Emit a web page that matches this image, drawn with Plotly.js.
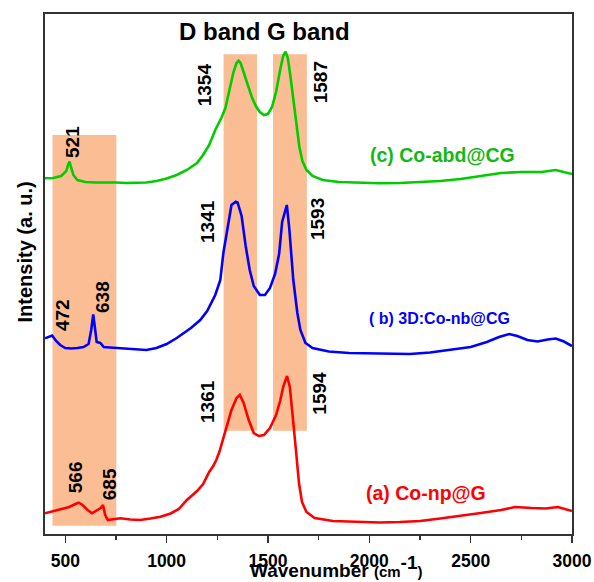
<!DOCTYPE html>
<html>
<head>
<meta charset="utf-8">
<script src="https://cdn.plot.ly/plotly-3.0.1.min.js"></script>
<style>html,body{margin:0;padding:0;background:#fff;}#chart{width:594px;height:582px;}</style>
</head>
<body>
<div id="chart"></div>
<script>
// ---- Data (intensity in arbitrary units) ----
const wnA = [400,440,480,520,550,566,585,610,632,655,675,686,697,710,740,772,820,870,920,970,1020,1060,1100,1150,1180,1210,1230,1245,1260,1275,1295,1320,1345,1361,1380,1405,1430,1455,1480,1510,1540,1560,1575,1594,1608,1622,1638,1653,1668,1690,1730,1820,1950,2050,2150,2250,2350,2450,2550,2650,2720,2800,2870,2930,3000];
const intA = [20.7,23,25,27,30,31.3,29,24,20.7,24,26,29,19,14,15,15.7,14.5,14,15.5,17.3,20.5,25,34,43,50,62,68,74,82,92,106,124,136,139,131,114,101,98,99,106,119,133,147,158,147,120,84,51,32,22,16,13,12,11.5,12,13,15.5,18,21,24,27,26,25.5,27,23];

const wnB = [400,420,435,455,475,500,530,560,590,615,628,638,646,655,673,690,720,760,800,850,900,950,1000,1050,1080,1120,1166,1200,1240,1265,1280,1300,1320,1341,1350,1370,1390,1410,1430,1460,1485,1510,1535,1555,1570,1593,1605,1625,1645,1660,1685,1720,1800,1900,2000,2100,2200,2300,2400,2500,2580,2640,2690,2730,2780,2830,2880,2920,2960,3000];
const intB = [195.7,197,198.5,193,189,186,185.5,186,187,190,204,219.7,204,192,191,187,186.5,186,185.5,184.5,184,186,190,196,200,206,214,223,239,254,281,304,329,332.3,331.5,318,288,264,248,239,239,246,260,280,312,329,306,254,221,204,191,186,182.5,181,180.5,180,180,181.5,184,187,192,197,200,198,194,192.5,194.5,195.5,192.5,188];

const wnC = [400,440,480,505,515,521,528,540,560,600,650,700,750,800,850,900,950,1000,1050,1100,1150,1180,1210,1240,1270,1290,1310,1330,1345,1355,1365,1380,1400,1420,1440,1460,1480,1500,1520,1540,1560,1575,1587,1598,1610,1625,1640,1655,1670,1690,1720,1770,1850,1950,2050,2150,2250,2350,2450,2550,2650,2750,2850,2920,2960,3000];
const intC = [355.7,356,358,363,370,372.3,367,359,354,352,351.5,351.7,351.5,351,351,351.5,353,355.5,359,364,371,379,389,404,416,426,444,462,471,473.3,471,462,449,437,428,422,419,420,427,442,464,478,482.3,476,459,434,409,387,373,364,358,354,352,351,350.7,351,352,353,355,358,361,362,362,364,362,360];

const seriesNames = ["(a) Co-np@G", "( b) 3D:Co-nb@CG", "(c) Co-abd@CG"];
const peakLabels = ["521","472","638","566","685","1354","1587","1341","1593","1361","1594"];
const xTickVals = [500,1000,1500,2000,2500,3000];
const bandTitle = "D band G band";

// ---- Styling / layout ----
const FONT = "Arial, 'Liberation Sans', sans-serif";
const colA = "#ff0000", colB = "#0000ff", colC = "#00cc00";

const traces = [
  {x: wnA, y: intA, name: seriesNames[0], mode: "lines", line: {color: colA, width: 2.6}},
  {x: wnB, y: intB, name: seriesNames[1], mode: "lines", line: {color: colB, width: 2.6}},
  {x: wnC, y: intC, name: seriesNames[2], mode: "lines", line: {color: colC, width: 2.6}}
];

// peak label placement (x in wavenumber, y in intensity units)
const peakPos = [
  [533,392],[484,219],[681,237],[549,57],[717,50],
  [1186,449],[1758,452],[1199,313],[1742,315],[1199,133],[1750,141]
];
const ann = (o) => Object.assign({showarrow: false, xanchor: "center", yanchor: "middle"}, o);
const annotations = peakLabels.map((t,i)=>ann({
  text: "<b>"+t+"</b>", x: peakPos[i][0], y: peakPos[i][1], xref: "x", yref: "y",
  textangle: -90,
  font: {family: FONT, size: 19, color: "#000"}
}));
annotations.push(ann({text: "<b>"+bandTitle+"</b>", x: 0.416, y: 0.966, xref: "paper", yref: "paper",
  font: {family: FONT, size: 24, color: "#000"}}));
annotations.push(ann({text: "<b>"+seriesNames[2]+"</b>", x: 0.754, y: 0.729, xref: "paper", yref: "paper",
  font: {family: FONT, size: 19.5, color: "#14b814"}}));
annotations.push(ann({text: "<b>"+seriesNames[1]+"</b>", x: 0.748, y: 0.4135, xref: "paper", yref: "paper",
  font: {family: FONT, size: 16, color: colB}}));
annotations.push(ann({text: "<b>"+seriesNames[0]+"</b>", x: 0.7235, y: 0.0788, xref: "paper", yref: "paper",
  font: {family: FONT, size: 19.5, color: colA}}));
annotations.push(ann({text: "<b>Intensity (a. u.)</b>", x: -0.0374, y: 0.542, xref: "paper", yref: "paper",
  textangle: -90, font: {family: FONT, size: 20, color: "#000"}}));
// x-axis title (placed like the reference, slightly right of centre)
annotations.push(ann({text: "<b>Wavenumber <span style='font-size:15px'>(cm</span><sup><span style='font-size:19px'>-1</span></sup><span style='font-size:15px'>)</span></b>",
  x: 0.553, y: -0.063, xref: "paper", yref: "paper",
  font: {family: FONT, size: 19, color: "#000"}}));

const shade = "rgba(251,190,148,1)";
const shapes = [
  {type: "rect", xref: "x", yref: "y", x0: 437, x1: 752, y0: 8.3, y1: 399, fillcolor: shade, line: {width: 0}, layer: "below"},
  {type: "rect", xref: "x", yref: "y", x0: 1281, x1: 1446, y0: 103.3, y1: 479.7, fillcolor: shade, line: {width: 0}, layer: "below"},
  {type: "rect", xref: "x", yref: "y", x0: 1525, x1: 1692, y0: 103.3, y1: 479.7, fillcolor: shade, line: {width: 0}, layer: "below"}
];

const layout = {
  width: 594, height: 582,
  margin: {l: 45, r: 22, t: 14, b: 48, pad: 0},
  paper_bgcolor: "#fff", plot_bgcolor: "#fff",
  showlegend: false,
  font: {family: FONT, color: "#000"},
  xaxis: {
    range: [400, 3000], tickvals: xTickVals, ticktext: xTickVals.map(v => "<b>"+v+"</b>"),
    ticks: "outside", ticklen: 7, tickwidth: 1.5, tickcolor: "#333", ticklabelstandoff: 3,
    minor: {tickvals: [750,1250,1750,2250,2750], ticks: "outside", ticklen: 4, tickwidth: 1.5, tickcolor: "#333"},
    showline: true, linecolor: "#333", linewidth: 2, mirror: true,
    showgrid: false, zeroline: false,
    tickfont: {family: FONT, size: 17.5, color: "#000"}
  },
  yaxis: {
    range: [0, 520], showticklabels: false, ticks: "",
    showline: true, linecolor: "#333", linewidth: 2, mirror: true,
    showgrid: false, zeroline: false
  },
  annotations: annotations,
  shapes: shapes
};

Plotly.newPlot("chart", traces, layout, {staticPlot: true, displayModeBar: false});
</script>
</body>
</html>
